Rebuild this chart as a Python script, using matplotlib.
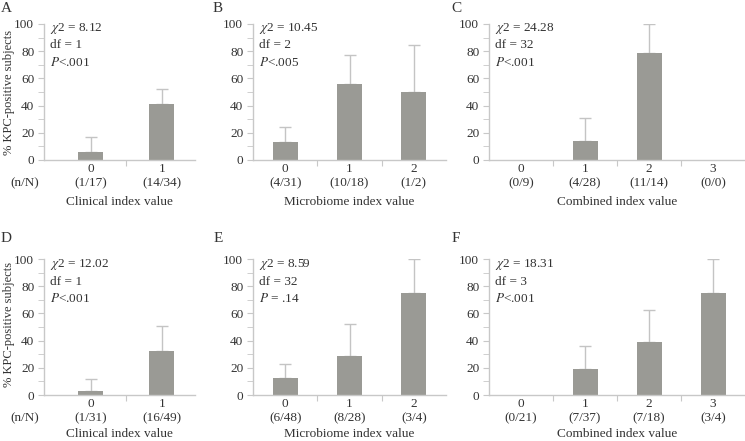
import matplotlib
matplotlib.use("Agg")
import matplotlib.pyplot as plt
from matplotlib.ticker import MultipleLocator

# === DATA ===
clin1_pct = [5.9, 41.2]
clin1_err = [16.7, 52.5]
clin1_n = ["(1/17)", "(14/34)"]

micro1_pct = [12.9, 55.6, 50.0]
micro1_err = [24.0, 77.2, 84.6]
micro1_n = ["(4/31)", "(10/18)", "(1/2)"]

comb1_pct = [0, 14.3, 78.6, 0]
comb1_err = [0, 31.1, 99.8, 0]
comb1_n = ["(0/9)", "(4/28)", "(11/14)", "(0/0)"]

clin2_pct = [3.2, 32.7]
clin2_err = [11.5, 51.0]
clin2_n = ["(1/31)", "(16/49)"]

micro2_pct = [12.5, 28.6, 75.0]
micro2_err = [23.0, 52.0, 100.0]
micro2_n = ["(6/48)", "(8/28)", "(3/4)"]

comb2_pct = [0, 18.9, 38.9, 75.0]
comb2_err = [0, 35.8, 62.5, 100.0]
comb2_n = ["(0/21)", "(7/37)", "(7/18)", "(3/4)"]

stats = {
    "A": ["8.12", "1", "<.001"],
    "B": ["10.45", "2", "<.005"],
    "C": ["24.28", "32", "<.001"],
    "D": ["12.02", "1", "<.001"],
    "E": ["8.59", "32", " = .14"],
    "F": ["18.31", "3", "<.001"],
}
xlabels = ["Clinical index value", "Microbiome index value", "Combined index value"]

# === STYLE ===
plt.rcParams["font.family"] = ["Liberation Serif", "DejaVu Serif"]
plt.rcParams["mathtext.fontset"] = "stix"
TXT = "#333333"
BAR = "#9a9a95"
ERR = "#c4c4c4"
AX = "#c8c8c8"
W, H = 745, 441

fig = plt.figure(figsize=(W / 100, H / 100), dpi=100)


def fx(px):
    return px / W


def fy(py):
    return 1 - py / H


# (left px, right px, xlim) for each column
cols = [
    (44, 195, (-0.662, 1.465)),
    (253, 446, (-0.5, 2.5)),
    (489, 745, (-0.5, 3.5)),
]
rows = [(24, 160), (259, 395)]

panels = [
    ("A", 0, 0, clin1_pct, clin1_err, clin1_n),
    ("B", 0, 1, micro1_pct, micro1_err, micro1_n),
    ("C", 0, 2, comb1_pct, comb1_err, comb1_n),
    ("D", 1, 0, clin2_pct, clin2_err, clin2_n),
    ("E", 1, 1, micro2_pct, micro2_err, micro2_n),
    ("F", 1, 2, comb2_pct, comb2_err, comb2_n),
]
letter_x = [6, 218, 456]
letter_y = [8, 239]

for letter, r, c, pct, err, nlab in panels:
    left, right, xl = cols[c]
    top, bot = rows[r]
    ax = fig.add_axes([fx(left), fy(bot), fx(right - left), (bot - top) / H])
    cat_px = (right - left) / (xl[1] - xl[0])
    bw = 25 / cat_px
    x = list(range(len(pct)))
    ax.bar(x, pct, width=bw, color=BAR, zorder=2)
    for i in x:
        if pct[i] > 0:
            ax.errorbar(i, pct[i], yerr=[[0], [err[i] - pct[i]]], color=ERR,
                        lw=1, capsize=4, capthick=1, zorder=1)
    ax.set_xlim(*xl)
    ax.set_ylim(0, 100)
    for s in ["top", "right"]:
        ax.spines[s].set_visible(False)
    for s in ["left", "bottom"]:
        ax.spines[s].set_color(AX)
        ax.spines[s].set_linewidth(1)
    ax.yaxis.set_major_locator(MultipleLocator(20))
    ax.yaxis.set_minor_locator(MultipleLocator(10))
    ax.tick_params(axis="y", which="both", length=4, color=AX, labelcolor=TXT,
                   labelsize=9.5, pad=3)
    ax.set_xticks([i + 0.5 for i in x[:-1]])
    ax.set_xticklabels([])
    ax.tick_params(axis="x", length=4, color=AX)
    ax.patch.set_alpha(0)

    for i in x:
        ax.annotate(str(i), xy=(i, 0), xycoords=("data", "axes fraction"),
                    xytext=(0, -9), textcoords="offset pixels", ha="center",
                    va="center", fontsize=9.5, color=TXT)
        ax.annotate(nlab[i], xy=(i, 0), xycoords=("data", "axes fraction"),
                    xytext=(0, -23), textcoords="offset pixels", ha="center",
                    va="center", fontsize=9.5, color=TXT)
    ax.annotate(xlabels[c], xy=(0.5, 0), xycoords="axes fraction",
                xytext=(0, -42 if r == 0 else -39), textcoords="offset pixels",
                ha="center", va="center", fontsize=9.5, color=TXT)

    chi, df, p = stats[letter]
    lines = [r"$\chi$2 = " + chi, "df = " + df, r"$P$" + p]
    off0 = -4 if r == 0 else -6
    for k, t in enumerate(lines):
        ax.annotate(t, xy=(0, 1), xycoords="axes fraction",
                    xytext=(6, off0 - 17 * k), textcoords="offset pixels",
                    ha="left", va="center", fontsize=9.5, color=TXT)

    fig.text(fx(letter_x[c]), fy(letter_y[r]), letter, ha="center",
             va="center", fontsize=11, color=TXT)

    if c == 0:
        fig.text(fx(9), fy((top + bot) / 2 + (0 if r == 0 else -3)),
                 "% KPC-positive subjects", rotation=90, ha="center",
                 va="center", fontsize=9, color=TXT)
        fig.text(fx(25), fy(bot + 23), "(n/N)", ha="center", va="center",
                 fontsize=9.5, color=TXT)

fig.savefig("out.png", dpi=100)
